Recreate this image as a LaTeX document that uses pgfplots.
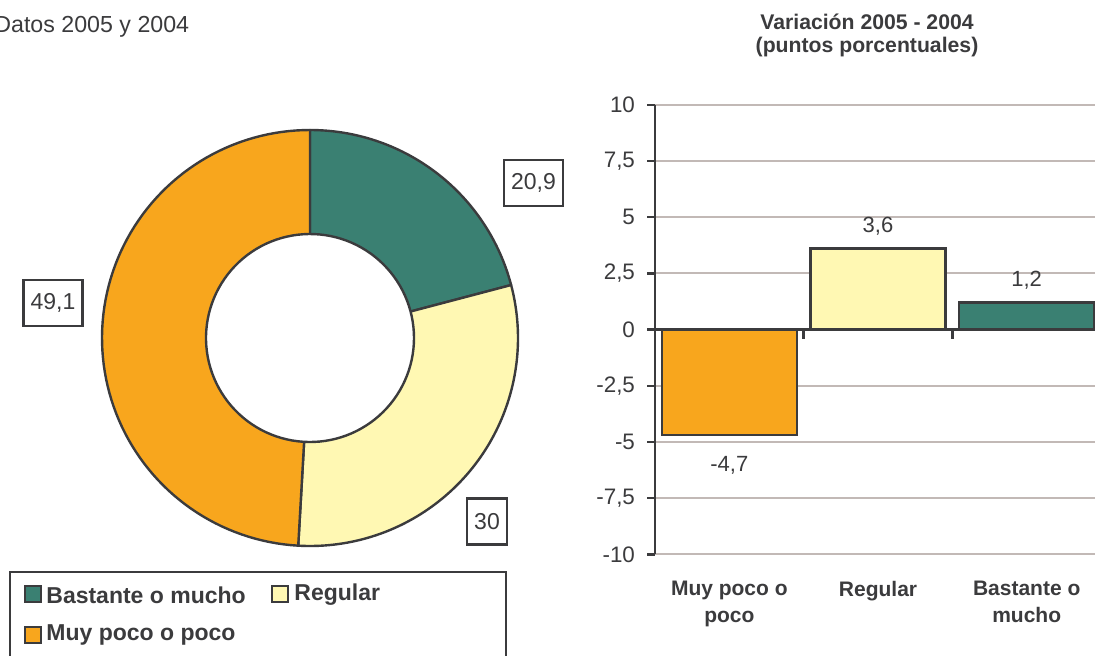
\documentclass[border=0pt]{standalone}
\usepackage{fontspec}
\setmainfont{Liberation Sans}
\usepackage{pgfplots}
\pgfplotsset{compat=1.18}

\definecolor{dark}{HTML}{3B3B3D}
\definecolor{gridc}{HTML}{C2B9B6}
\definecolor{cteal}{HTML}{3A8072}
\definecolor{cyel}{HTML}{FFF8B3}
\definecolor{corange}{HTML}{F8A61D}

% donut values (per cent)
\def\vBastante{20.9}
\def\vRegular{30}
\def\vMuyPoco{49.1}

\newcommand{\slice}[3]{%
  \addplot[fill=#3, draw=dark, line width=1.2pt, line join=round,
    domain=#1:#2, samples=90, variable=\t]
    ({cos(\t)},{sin(\t)}) -- (axis cs:0,0) -- cycle;}

\begin{document}
\begin{tikzpicture}[x=0.5pt,y=0.5pt]
\useasboundingbox (0,0) rectangle (1095,655);

\node[anchor=base west, inner sep=0pt, font=\fontsize{11.6}{14}\selectfont, text=dark]
  at (-6,622) {Datos 2005 y 2004};

% ---- donut ----
\coordinate (dc) at (310,317);
\pgfmathsetmacro\aA{90-3.6*\vBastante}
\pgfmathsetmacro\aB{\aA-3.6*\vRegular}
\pgfmathsetmacro\aC{\aB-3.6*\vMuyPoco}
\begin{axis}[at={(dc)}, anchor=center, scale only axis,
    width=208pt, height=208pt,
    xmin=-1, xmax=1, ymin=-1, ymax=1, hide axis, clip=false]
  \slice{\aA}{90}{cteal}
  \slice{\aB}{\aA}{cyel}
  \slice{\aC}{\aB}{corange}
  \addplot[fill=white, draw=dark, line width=1.2pt, domain=0:360, samples=120, variable=\t]
    ({0.5*cos(\t)},{0.5*sin(\t)}) -- cycle;
\end{axis}

\tikzset{vbox/.style={draw=dark, line width=1.2pt, fill=white, text=dark,
  font=\fontsize{11.5}{14}\selectfont, inner xsep=3.5pt, inner ysep=0pt, minimum height=23pt}}
\node[vbox] at (533.5,472) {20,9};
\node[vbox] at (53,352) {49,1};
\node[vbox] at (487,133.5) {30};

% legend
\draw[dark, line width=1.2pt] (10,83) rectangle (506,-20);
\tikzset{lg/.style={anchor=west, inner sep=0pt, text=dark, font=\bfseries\fontsize{11.5}{14}\selectfont}}
\filldraw[fill=cteal, draw=dark, line width=1pt] (24.5,53) rectangle (40.5,69);
\node[lg] at (46,60) {Bastante o mucho};
\filldraw[fill=cyel, draw=dark, line width=1pt] (272,53) rectangle (288,69);
\node[lg] at (294,60) {Regular};
\filldraw[fill=corange, draw=dark, line width=1pt] (24.5,12) rectangle (40.5,28);
\node[lg] at (46,20) {Muy poco o poco};

% ---- bar chart ----
\node[font=\bfseries\fontsize{10.6}{13}\selectfont, text=dark] at (867,633) {Variación 2005 - 2004};
\node[font=\bfseries\fontsize{10.6}{13}\selectfont, text=dark] at (867,608) {(puntos porcentuales)};

\coordinate (bo) at (655,100.7);
\begin{axis}[at={(bo)}, anchor=south west, scale only axis,
    width=223pt, height=224.8pt,
    xmin=-0.5, xmax=2.5, ymin=-10, ymax=10,
    ytick={-10,-7.5,-5,-2.5,0,2.5,5,7.5,10},
    yticklabels={-10,{-7,5},-5,{-2,5},0,{2,5},5,{7,5},10},
    xtick={0,1,2},
    xticklabels={{Muy poco o\\poco},Regular,{Bastante o\\mucho}},
    axis y line*=left, axis x line*=bottom,
    x axis line style={draw=none},
    y axis line style={draw=dark, line width=1.2pt},
    ymajorgrids, grid style={gridc, line width=1.1pt},
    tick align=outside, major tick length=4pt,
    ytick style={dark, line width=1.2pt},
    xtick style={draw=none},
    y tick label style={text=dark, font=\fontsize{11.2}{13}\selectfont, xshift=-2.5pt},
    x tick label style={text=dark, align=center,
      font=\bfseries\fontsize{10.5}{13.5}\selectfont, yshift=-6pt},
    ybar, bar width=0.91, bar shift=0pt,
    nodes near coords={\pgfmathprintnumber[fixed, precision=1, use comma, assume math mode=true]{\pgfplotspointmeta}},
    every node near coord/.append style={text=dark, inner sep=0pt, font=\fontsize{11}{13}\selectfont},
  ]
  \addplot[fill=corange, draw=dark, line width=1.2pt,
    every node near coord/.append style={yshift=-10pt}] coordinates {(0,-4.7)};
  \addplot[fill=cyel, draw=dark, line width=1.2pt,
    every node near coord/.append style={yshift=6pt}] coordinates {(1,3.6)};
  \addplot[fill=cteal, draw=dark, line width=1.2pt,
    every node near coord/.append style={yshift=6pt}] coordinates {(2,1.2)};
  \draw[dark, line width=1.2pt] (axis cs:-0.5,0) -- (axis cs:2.5,0);
  \draw[dark, line width=1.4pt] (axis cs:0.5,0) -- (axis cs:0.5,-0.4);
  \draw[dark, line width=1.4pt] (axis cs:1.5,0) -- (axis cs:1.5,-0.4);
\end{axis}
\end{tikzpicture}
\end{document}
